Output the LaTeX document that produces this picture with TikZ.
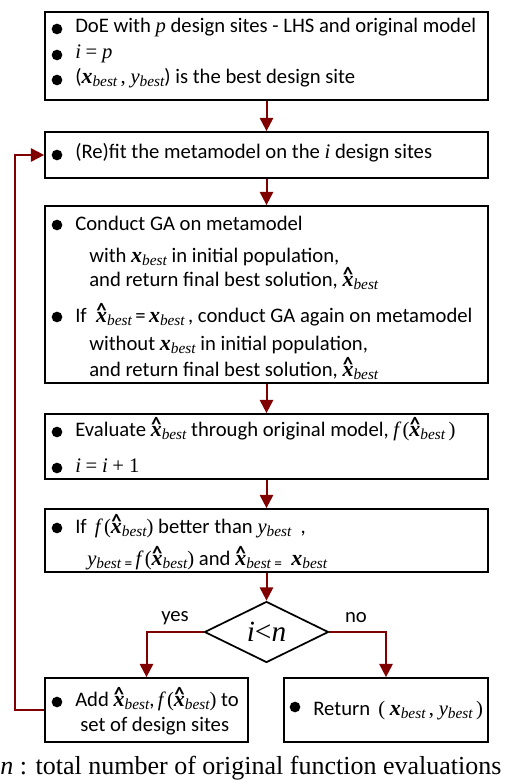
\documentclass[tikz,border=0pt]{standalone}
\usepackage{fontspec}
\setmainfont{Carlito}
\newfontfamily\tm{Liberation Serif}
\usetikzlibrary{arrows.meta,shapes.geometric}

\definecolor{flowred}{RGB}{128,0,0}

% italic variables and subscripts in a Times-like face
\newcommand\mvar[1]{{\tm\itshape #1}}
\newcommand\bst{\raisebox{-0.35ex}{\tm\itshape\fontsize{11.5}{11.5}\selectfont best}}
\newcommand\xbold{{\tm\bfseries\itshape\fontsize{16.5}{18}\selectfont x}}
\newcommand\xb{\xbold\bst}
\newcommand\xhat{\hbox{\ooalign{\xbold\cr\hidewidth\raisebox{0.24em}{\bfseries\char"5E}\hidewidth\cr}}}
\newcommand\xhb{\xhat\bst}
\newcommand\yb{\mvar{y}\bst}
\newcommand\smeq{\raisebox{-0.35ex}{\fontsize{11.5}{11.5}\selectfont =}}

\tikzset{
  box/.style={draw=black, line width=1.3pt, inner sep=0pt, fill=white},
  arr/.style={draw=flowred, line width=1.5pt, -{Triangle[length=10pt,width=10pt]}},
  dot/.style={circle, fill=black, inner sep=0pt, minimum size=8pt},
  txt/.style={anchor=mid west, inner sep=0pt, font=\fontsize{15.5}{18}\selectfont},
  lbl/.style={inner sep=0pt, font=\fontsize{15.5}{18}\selectfont},
}

\begin{document}
\begin{tikzpicture}[x=0.75pt,y=-0.75pt]
\useasboundingbox (0,0) rectangle (509,784);

% process boxes
\node[box, minimum width=332.25pt, minimum height=66pt]     (init) at (266.5,56) {};
\node[box, minimum width=332.25pt, minimum height=34.5pt]   (fit)  at (266.5,155) {};
\node[box, minimum width=332.25pt, minimum height=132.75pt] (ga)   at (266.5,294.5) {};
\node[box, minimum width=332.25pt, minimum height=48.75pt]  (eval) at (266.5,446.5) {};
\node[box, minimum width=332.25pt, minimum height=47.25pt]  (upd)  at (266.5,540.5) {};
\node[box, diamond, minimum width=93pt, minimum height=45.75pt,
      font=\tm\itshape\fontsize{22}{22}\selectfont] (cond) at (266.5,632) {i{\upshape<}n};
\node[box, minimum width=152.25pt, minimum height=48pt] (add) at (146.5,710) {};
\node[box, minimum width=153pt, minimum height=48pt]    (ret) at (386,710) {};

% box 1
\node[dot] (b1a) at (57,29) {};
\node[txt] (t1a) at (75,29) {DoE with \mvar{p} design sites - LHS and original model};
\node[dot] (b1b) at (57,55) {};
\node[txt] (t1b) at (75,55) {\mvar{i} {\tm=} \mvar{p}};
\node[dot] (b1c) at (57,80) {};
\node[txt] (t1c) at (75,80) {(\xb\,{\tm,} \yb) is the best design site};

% box 2
\node[dot] (b2) at (57,155) {};
\node[txt] (t2) at (75,155) {(Re)fit the metamodel on the \mvar{i} design sites};

% box 3
\node[dot] (b3a) at (57,225) {};
\node[txt] (t3a) at (75,227) {Conduct GA on metamodel};
\node[txt] (t3b) at (89,259) {with \xb\ in initial population,};
\node[txt] (t3c) at (89,283) {and return final best solution, \xhb};
\node[dot] (b3b) at (57,317) {};
\node[txt] (t3d) at (75,319) {If \ \xhb\,=\,\xb\,, conduct GA again on metamodel};
\node[txt] (t3e) at (89,347) {without \xb\ in initial population,};
\node[txt] (t3f) at (89,373) {and return final best solution, \xhb};

% box 4
\node[dot] (b4a) at (57,432) {};
\node[txt] (t4a) at (75,433) {Evaluate \xhb\ through original model, \mvar{f}\,{\tm(}\xhb\,{\tm)}};
\node[dot] (b4b) at (57,468) {};
\node[txt] (t4b) at (75,469) {\mvar{i} {\tm=} \mvar{i} {\tm+ 1}};

% box 5
\node[dot] (b5) at (57,528) {};
\node[txt] (t5a) at (75,530) {If \,\mvar{f}\,{\tm(}\xhb{\tm)} better than \yb\ \ ,};
\node[txt] (t5b) at (87,562) {\yb\,\smeq\,\mvar{f}\,{\tm(}\xhb{\tm)} and \xhb\,\smeq\ \ \xb};

% final boxes
\node[dot] (b6) at (57,702) {};
\node[txt] (t6a) at (75,703) {Add \xhb,\,\mvar{f}\,{\tm(}\xhb{\tm)} to};
\node[txt] (t6b) at (80,728) {set of design sites};
\node[dot] (b7) at (295,707) {};
\node[txt] (t7) at (313,712) {Return \,{\tm(} \xb\,{\tm,} \yb\,{\tm)}};

% branch labels
\node[lbl] (yes) at (175,618) {yes};
\node[lbl] (no)  at (356,618) {no};

% connectors
\draw[arr] (init) -- (fit);
\draw[arr] (fit) -- (ga);
\draw[arr] (ga) -- (eval);
\draw[arr] (eval) -- (upd);
\draw[arr] (upd) -- (cond);
\draw[arr] (cond.west) -| (add.north);
\draw[arr] (cond.east) -| (ret.north);
\draw[arr] (add.west) -- ++(-29,0) |- (fit.west);

% footnote
\node[anchor=base west, inner sep=0pt, font=\tm\fontsize{19.5}{22}\selectfont] (note)
  at (0,774) {\mvar{n} : total number of original function evaluations};
\end{tikzpicture}
\end{document}
